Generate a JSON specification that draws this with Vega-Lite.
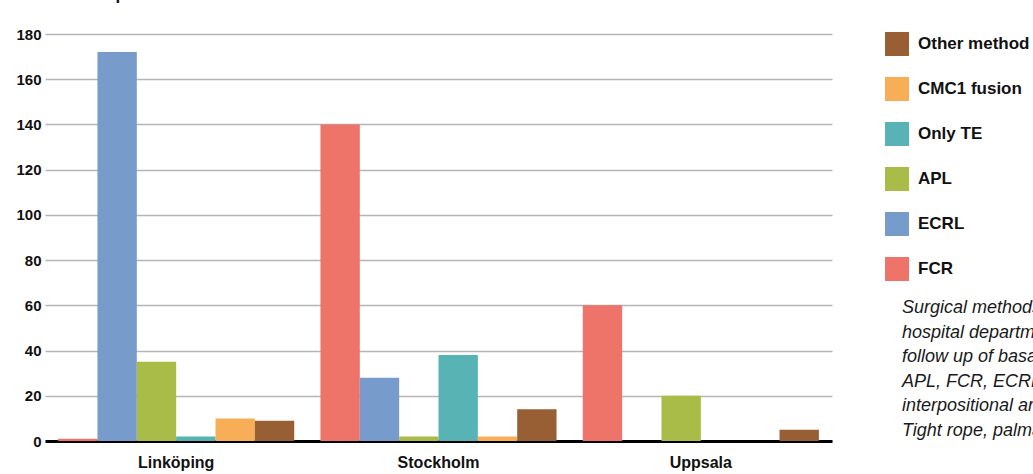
{
  "$schema": "https://vega.github.io/schema/vega-lite/v6.json",
  "autosize": "none",
  "width": 787,
  "height": 407,
  "padding": {"left": 45, "top": 34, "right": 201, "bottom": 33},
  "background": "white",
  "config": {
    "view": {"stroke": null},
    "font": "Liberation Sans, Arial, sans-serif"
  },
  "title": {
    "text": [
      "Surgical methods used at the",
      "hospital departments in the",
      "follow up of basal thumb",
      "APL, FCR, ECRL: tendon",
      "interpositional arthroplasty,",
      "Tight rope, palmar ligament"
    ],
    "orient": "top",
    "anchor": "start",
    "frame": "group",
    "baseline": "top",
    "align": "left",
    "dx": 857,
    "dy": 455,
    "offset": 0,
    "font": "Liberation Sans, Arial, sans-serif",
    "fontSize": 18,
    "fontStyle": "italic",
    "fontWeight": "normal",
    "color": "#1a1a1a",
    "lineHeight": 24.6
  },
  "data": {
    "values": [
      {"hospital": "Linköping", "method": "FCR", "operations": 1},
      {"hospital": "Linköping", "method": "ECRL", "operations": 172},
      {"hospital": "Linköping", "method": "APL", "operations": 35},
      {"hospital": "Linköping", "method": "Only TE", "operations": 2},
      {"hospital": "Linköping", "method": "CMC1 fusion", "operations": 10},
      {"hospital": "Linköping", "method": "Other method", "operations": 9},
      {"hospital": "Stockholm", "method": "FCR", "operations": 140},
      {"hospital": "Stockholm", "method": "ECRL", "operations": 28},
      {"hospital": "Stockholm", "method": "APL", "operations": 2},
      {"hospital": "Stockholm", "method": "Only TE", "operations": 38},
      {"hospital": "Stockholm", "method": "CMC1 fusion", "operations": 2},
      {"hospital": "Stockholm", "method": "Other method", "operations": 14},
      {"hospital": "Uppsala", "method": "FCR", "operations": 60},
      {"hospital": "Uppsala", "method": "ECRL", "operations": 0},
      {"hospital": "Uppsala", "method": "APL", "operations": 20},
      {"hospital": "Uppsala", "method": "Only TE", "operations": 0},
      {"hospital": "Uppsala", "method": "CMC1 fusion", "operations": 0},
      {"hospital": "Uppsala", "method": "Other method", "operations": 5}
    ]
  },
  "mark": {"type": "bar", "opacity": 1},
  "encoding": {
    "x": {
      "field": "hospital",
      "type": "nominal",
      "sort": null,
      "scale": {"paddingInner": 0.1, "paddingOuter": 0.05},
      "axis": {
        "title": null,
        "labelAngle": 0,
        "labelFontSize": 16,
        "labelFontWeight": "bold",
        "labelColor": "#111",
        "labelPadding": 13,
        "ticks": false,
        "domainColor": "#000",
        "domainWidth": 3
      }
    },
    "xOffset": {
      "field": "method",
      "type": "nominal",
      "sort": ["FCR", "ECRL", "APL", "Only TE", "CMC1 fusion", "Other method"],
      "scale": {"paddingInner": 0, "paddingOuter": 0}
    },
    "y": {
      "field": "operations",
      "type": "quantitative",
      "scale": {"domain": [0, 180], "nice": false},
      "axis": {
        "values": [0, 20, 40, 60, 80, 100, 120, 140, 160, 180],
        "title": "Number of operations",
        "titleAngle": 0,
        "titleAlign": "left",
        "titleBaseline": "alphabetic",
        "titleX": -30,
        "titleY": -35,
        "titleFontSize": 17,
        "titleFontWeight": "bold",
        "titleColor": "#111",
        "domain": false,
        "ticks": false,
        "labelFontSize": 15,
        "labelFontWeight": "bold",
        "labelColor": "#111",
        "labelPadding": 4,
        "gridColor": "#b5b5b5",
        "gridWidth": 1.6
      }
    },
    "color": {
      "field": "method",
      "type": "nominal",
      "scale": {
        "domain": ["FCR", "ECRL", "APL", "Only TE", "CMC1 fusion", "Other method"],
        "range": ["#ee7368", "#779bcb", "#a8bc47", "#58b3b5", "#f8ae56", "#985f35"]
      },
      "legend": {
        "title": null,
        "orient": "none",
        "legendX": 840,
        "legendY": -2,
        "values": ["Other method", "CMC1 fusion", "Only TE", "APL", "ECRL", "FCR"],
        "symbolType": "square",
        "symbolSize": 576,
        "symbolStrokeWidth": 0,
        "symbolOpacity": 1,
        "labelFontSize": 17,
        "labelFontWeight": "bold",
        "labelColor": "#111",
        "labelOffset": 9,
        "rowPadding": 21,
        "padding": 0,
        "labelLimit": 300
      }
    }
  }
}
